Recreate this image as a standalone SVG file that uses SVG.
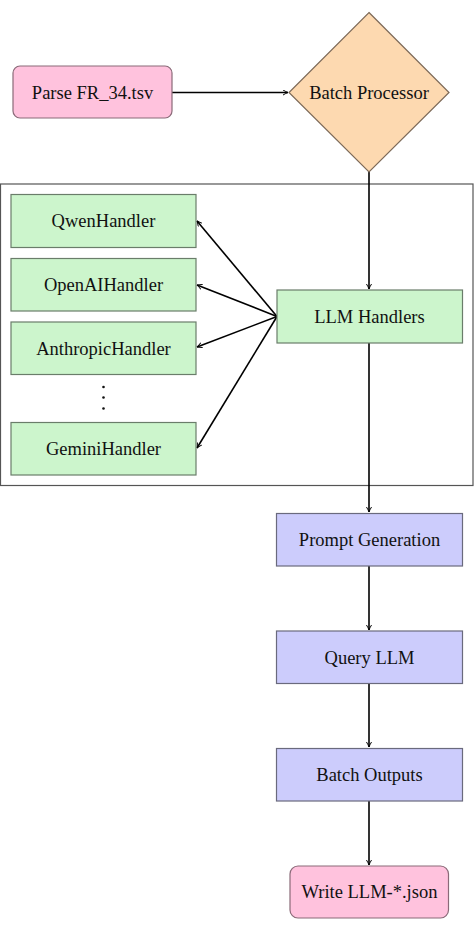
<svg xmlns="http://www.w3.org/2000/svg" width="474" height="926" viewBox="0 0 474 926">
<style>
text{font-family:"Liberation Serif","Times New Roman",serif;font-size:18.5px;fill:#111;text-anchor:middle}
.pink{fill:#ffc2dd;stroke:#8a6a78;stroke-width:1.2}
.orange{fill:#fdd9b0;stroke:#7d6a58;stroke-width:1.2}
.green{fill:#ccf5cc;stroke:#6a7d6a;stroke-width:1.2}
.blue{fill:#ccccfc;stroke:#6a6a7d;stroke-width:1.2}
.edge{fill:none;stroke:#000;stroke-width:1.6;marker-end:url(#arr)}
</style>
<defs>
<marker id="arr" viewBox="0 0 10 10" refX="9" refY="5" markerWidth="6" markerHeight="6" orient="auto" markerUnits="userSpaceOnUse">
<path d="M1,1 Q6,4 9,5 Q6,6 1,9" fill="none" stroke="#000" stroke-width="1.6" stroke-linecap="round"/>
</marker>
</defs>
<rect id="container" x="0.5" y="184" width="472.5" height="301.5" fill="#fff" stroke="#555" stroke-width="1.2"/>
<g id="connectors">
<path class="edge" d="M172,92.5 L288,92.5"/>
<path class="edge" d="M369,172 L369,289"/>
<path class="edge" d="M277,316.5 L197,221"/>
<path class="edge" d="M277,316.5 L197,285"/>
<path class="edge" d="M277,316.5 L197,347"/>
<path class="edge" d="M277,316.5 L197,448"/>
<path class="edge" d="M369,343 L369,512"/>
<path class="edge" d="M369,566 L369,630"/>
<path class="edge" d="M369,684 L369,747"/>
<path class="edge" d="M369,801 L369,865"/>
</g>
<g id="parse"><rect class="pink" x="13" y="66" width="159" height="52" rx="7"/><text x="92.5" y="98.5">Parse FR_34.tsv</text></g>
<g id="batch"><polygon class="orange" points="369,12.5 449,92.5 369,172 289,92.5"/><text x="369" y="98.5">Batch Processor</text></g>
<g id="qwen"><rect class="green" x="11" y="194.5" width="185" height="53"/><text x="103.5" y="227">QwenHandler</text></g>
<g id="openai"><rect class="green" x="11" y="258.5" width="185" height="52.5"/><text x="103.5" y="291">OpenAIHandler</text></g>
<g id="anthropic"><rect class="green" x="11" y="322" width="185" height="52.5"/><text x="103.5" y="354.5">AnthropicHandler</text></g>
<g id="dots"><circle cx="103.5" cy="387" r="1.3" fill="#111"/><circle cx="103.5" cy="397.5" r="1.3" fill="#111"/><circle cx="103.5" cy="408.5" r="1.3" fill="#111"/></g>
<g id="gemini"><rect class="green" x="11" y="422.5" width="185" height="52.5"/><text x="103.5" y="455">GeminiHandler</text></g>
<g id="llm"><rect class="green" x="277" y="290" width="185.5" height="53"/><text x="369.5" y="322.5">LLM Handlers</text></g>
<g id="prompt"><rect class="blue" x="276.5" y="513.5" width="186" height="52.5"/><text x="369.5" y="545.5">Prompt Generation</text></g>
<g id="query"><rect class="blue" x="276.5" y="631" width="186" height="52.5"/><text x="369.5" y="663.5">Query LLM</text></g>
<g id="outputs"><rect class="blue" x="276.5" y="748.5" width="186" height="52.5"/><text x="369.5" y="780.5">Batch Outputs</text></g>
<g id="write"><rect class="pink" x="290" y="866" width="158.5" height="52" rx="8"/><text x="369.5" y="898">Write LLM-*.json</text></g>
</svg>
